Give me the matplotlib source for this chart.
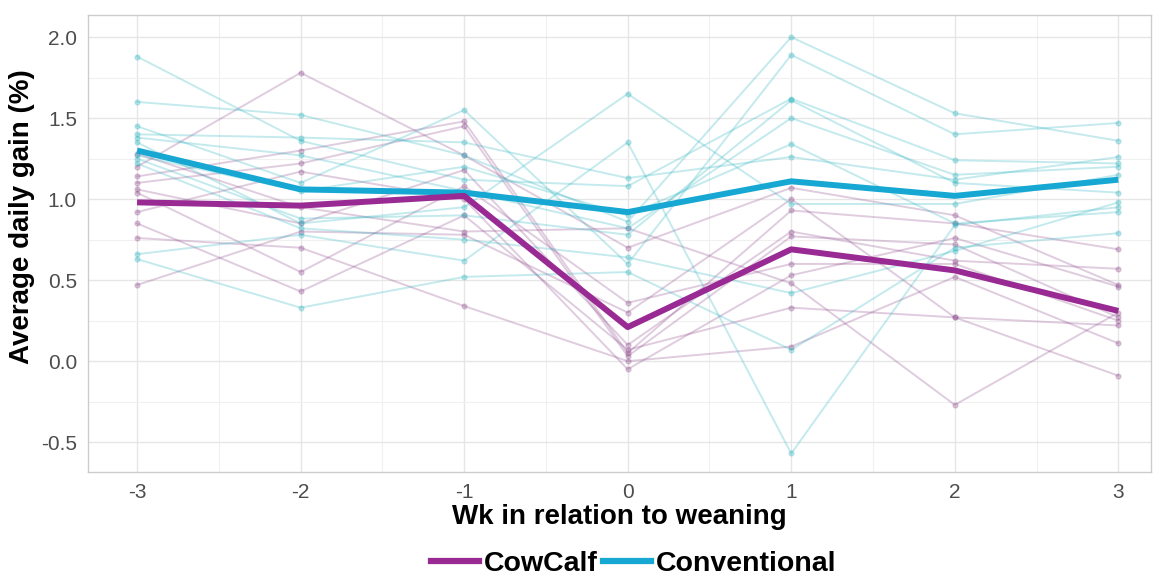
import matplotlib
matplotlib.use("Agg")
import matplotlib.pyplot as plt
from matplotlib.lines import Line2D
import numpy as np

plt.rcParams["axes.unicode_minus"] = False

weeks = [-3, -2, -1, 0, 1, 2, 3]

# individual animals, CowCalf group
cowcalf = [
    [1.20, 1.78, 1.27, 0.70, 1.07, 0.90, 0.47],
    [1.14, 1.30, 1.48, 0.05, 0.93, 0.85, 0.69],
    [1.10, 1.22, 1.45, 0.03, 0.77, 0.72, 0.27],
    [1.06, 0.85, 1.18, 0.10, 0.80, 0.62, 0.57],
    [1.04, 0.55, 1.08, 0.36, 0.60, 0.60, 0.25],
    [0.92, 1.17, 1.00, -0.05, 0.53, 0.76, 0.46],
    [0.85, 0.43, 0.90, 0.07, 0.33, 0.27, 0.22],
    [0.76, 0.70, 0.34, 0.00, 0.09, 0.52, 0.11],
    [1.28, 0.95, 0.80, 0.82, 0.48, -0.27, 0.30],
    [0.47, 0.80, 0.78, 0.30, 1.00, 0.27, -0.09],
]

# individual animals, Conventional group
conventional = [
    [1.88, 1.36, 1.12, 1.08, 1.62, 1.24, 1.22],
    [1.60, 1.52, 1.27, 0.86, 2.00, 1.53, 1.36],
    [1.45, 1.10, 1.55, 0.60, 1.89, 1.40, 1.47],
    [1.40, 1.38, 1.35, 1.13, 1.26, 1.12, 1.26],
    [1.38, 1.27, 1.05, 0.82, 1.50, 1.15, 1.20],
    [1.35, 0.85, 0.95, 1.65, 0.97, 0.97, 1.15],
    [1.27, 1.05, 1.20, 0.90, 1.34, 0.85, 0.92],
    [1.25, 0.88, 0.90, 0.78, 1.61, 1.10, 1.04],
    [1.22, 0.82, 0.75, 0.64, 0.42, 0.68, 0.98],
    [0.66, 0.78, 0.62, 1.35, -0.57, 0.84, 0.95],
    [0.63, 0.33, 0.52, 0.55, 0.07, 0.70, 0.79],
]

# group means as drawn
cowcalf_mean = [0.98, 0.96, 1.02, 0.21, 0.69, 0.56, 0.31]
conventional_mean = [1.30, 1.06, 1.04, 0.92, 1.11, 1.02, 1.12]

purple = "#992A93"
cyan = "#16A8D2"
font = ["Liberation Sans", "DejaVu Sans"]

fig = plt.figure(figsize=(11.58, 5.8), dpi=100)
ax = fig.add_axes([0.076, 0.186, 0.918, 0.788])

for row in cowcalf:
    ax.plot(weeks, row, color="#8E4A8C", alpha=0.28, lw=1.4,
            marker="o", ms=3.5, zorder=2)
for row in conventional:
    ax.plot(weeks, row, color="#2BB5C0", alpha=0.28, lw=1.4,
            marker="o", ms=3.5, zorder=2)

ax.plot(weeks, conventional_mean, color=cyan, lw=4.3, zorder=4, solid_capstyle="butt")
ax.plot(weeks, cowcalf_mean, color=purple, lw=4.3, zorder=4, solid_capstyle="butt")

ax.set_xlim(-3.3, 3.2)
ax.set_ylim(-0.685, 2.136)
ax.set_xticks(weeks)
ax.set_xticks(np.arange(-2.5, 3.0, 1.0), minor=True)
ax.set_yticks([-0.5, 0.0, 0.5, 1.0, 1.5, 2.0])
ax.set_yticks(np.arange(-0.25, 2.0, 0.5), minor=True)
ax.grid(which="major", color="#E6E6E6", lw=1.0, zorder=0)
ax.grid(which="minor", color="#F0F0F0", lw=0.8, zorder=0)
ax.set_axisbelow(True)
for s in ax.spines.values():
    s.set_color("#CCCCCC")
    s.set_linewidth(1.0)
ax.tick_params(which="both", length=0, pad=8, labelcolor="#4D4D4D")
for lab in ax.get_xticklabels() + ax.get_yticklabels():
    lab.set_family(font)
    lab.set_fontsize(15)

ax.set_xlabel("Wk in relation to weaning", fontsize=20, fontweight="bold",
              family=font, labelpad=1)
ax.set_ylabel("Average daily gain (%)", fontsize=20, fontweight="bold",
              family=font)
ax.yaxis.set_label_coords(-0.05, 0.56)

handles = [Line2D([], [], color=purple, lw=4.5), Line2D([], [], color=cyan, lw=4.5)]
leg = fig.legend(handles, ["CowCalf", "Conventional"], loc="center",
                 bbox_to_anchor=(0.547, 0.027), ncol=2, frameon=False,
                 handlelength=1.7, handletextpad=0.15, columnspacing=0.2,
                 prop={"family": font, "weight": "bold", "size": 20.5})

fig.savefig("out.png", dpi=100)
